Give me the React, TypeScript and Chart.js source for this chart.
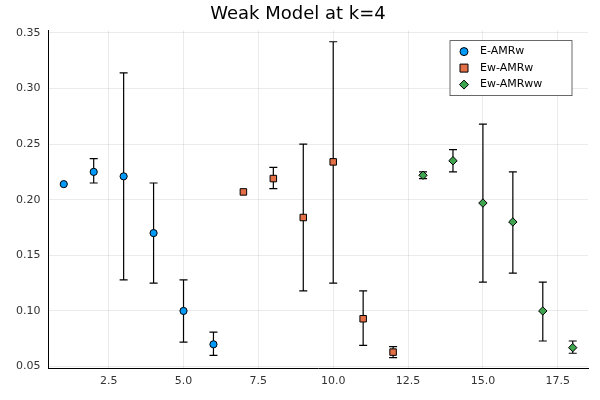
import React, { useEffect, useRef } from 'react';
import Chart from 'chart.js/auto';

const seriesNames = ['E-AMRw', 'Ew-AMRw', 'Ew-AMRww'];
const seriesColors = ['#009AFA', '#E26F46', '#3EA44E'];
const seriesShapes = ['circle', 'rect', 'rectRot'];
const xs = [
  [1, 2, 3, 4, 5, 6],
  [7, 8, 9, 10, 11, 12],
  [13, 14, 15, 16, 17, 18],
];
const ys = [
  [0.214, 0.225, 0.221, 0.17, 0.1, 0.07],
  [0.207, 0.219, 0.184, 0.234, 0.093, 0.063],
  [0.222, 0.235, 0.197, 0.18, 0.1, 0.067],
];
const lows = [
  [0.214, 0.215, 0.128, 0.125, 0.072, 0.06],
  [0.207, 0.21, 0.118, 0.125, 0.069, 0.058],
  [0.219, 0.225, 0.126, 0.134, 0.073, 0.062],
];
const highs = [
  [0.214, 0.237, 0.314, 0.215, 0.128, 0.081],
  [0.207, 0.229, 0.25, 0.342, 0.118, 0.068],
  [0.225, 0.245, 0.268, 0.225, 0.126, 0.073],
];
const xTicks = [2.5, 5, 7.5, 10, 12.5, 15, 17.5];
const yTicks = [0.05, 0.1, 0.15, 0.2, 0.25, 0.3, 0.35];

const font = 'DejaVu Sans';

const errorBars = {
  id: 'errorBars',
  beforeDatasetsDraw(chart: any) {
    const { ctx, scales } = chart;
    ctx.save();
    ctx.strokeStyle = '#000';
    ctx.lineWidth = 1.2;
    xs.forEach((row, s) => {
      row.forEach((x, i) => {
        const px = scales.x.getPixelForValue(x);
        const lo = scales.y.getPixelForValue(lows[s][i]);
        const hi = scales.y.getPixelForValue(highs[s][i]);
        if (Math.abs(lo - hi) < 0.5) return;
        ctx.beginPath();
        ctx.moveTo(px, lo);
        ctx.lineTo(px, hi);
        ctx.moveTo(px - 4, lo);
        ctx.lineTo(px + 4, lo);
        ctx.moveTo(px - 4, hi);
        ctx.lineTo(px + 4, hi);
        ctx.stroke();
      });
    });
    ctx.restore();
  },
};

const innerLegend = {
  id: 'innerLegend',
  afterDraw(chart: any) {
    const { ctx, chartArea } = chart;
    const w = 122, h = 55;
    const x0 = chartArea.right - w - 16;
    const y0 = chartArea.top + 10;
    ctx.save();
    ctx.fillStyle = '#fff';
    ctx.fillRect(x0, y0, w, h);
    ctx.strokeStyle = '#444';
    ctx.lineWidth = 0.8;
    ctx.strokeRect(x0, y0, w, h);
    ctx.font = `11px "${font}"`;
    ctx.textBaseline = 'middle';
    seriesNames.forEach((name, s) => {
      const cy = y0 + 11 + s * 16.5;
      const cx = x0 + 14;
      ctx.fillStyle = seriesColors[s];
      ctx.strokeStyle = '#000';
      ctx.lineWidth = 1;
      ctx.beginPath();
      if (s === 0) ctx.arc(cx, cy, 4, 0, Math.PI * 2);
      else if (s === 1) ctx.rect(cx - 4, cy - 4, 8, 8);
      else {
        ctx.moveTo(cx, cy - 4.5);
        ctx.lineTo(cx + 4.5, cy);
        ctx.lineTo(cx, cy + 4.5);
        ctx.lineTo(cx - 4.5, cy);
        ctx.closePath();
      }
      ctx.fill();
      ctx.stroke();
      ctx.fillStyle = '#000';
      ctx.fillText(name, x0 + 30, cy);
    });
    ctx.restore();
  },
};

const App: React.FC = () => {
  const chartRef = useRef<HTMLCanvasElement | null>(null);

  useEffect(() => {
    document.body.style.margin = '0';
    let chart: Chart | undefined;
    if (chartRef.current) {
      chart = new Chart(chartRef.current, {
        type: 'scatter',
        data: {
          datasets: seriesNames.map((name, s) => ({
            label: name,
            data: xs[s].map((x, i) => ({ x, y: ys[s][i] })),
            backgroundColor: seriesColors[s],
            borderColor: '#000',
            borderWidth: 1,
            pointStyle: seriesShapes[s] as any,
            pointRadius: s === 0 ? 3.6 : s === 1 ? 4.6 : 4.2,
          })),
        },
        options: {
          animation: false,
          responsive: false,
          layout: { padding: { left: 8, right: 12, top: 0, bottom: 6 } },
          plugins: {
            legend: { display: false },
            tooltip: { enabled: false },
            title: {
              display: true,
              text: 'Weak Model at k=4',
              color: '#000',
              font: { family: font, size: 18, weight: 'normal' },
              padding: { top: 4, bottom: 5 },
            },
          },
          scales: {
            x: {
              type: 'linear',
              min: 0.49,
              max: 18.51,
              afterBuildTicks: (axis: any) => {
                axis.ticks = xTicks.map((v) => ({ value: v }));
              },
              ticks: {
                color: '#333',
                font: { family: font, size: 11 },
                callback: (v: any) => Number(v).toFixed(1),
                maxRotation: 0,
                padding: 6,
              },
              grid: { color: 'rgba(0,0,0,0.08)', drawTicks: false },
              border: { color: '#000' },
            },
            y: {
              type: 'linear',
              min: 0.048,
              max: 0.352,
              afterBuildTicks: (axis: any) => {
                axis.ticks = yTicks.map((v) => ({ value: v }));
              },
              ticks: {
                color: '#333',
                font: { family: font, size: 11 },
                callback: (v: any) => Number(v).toFixed(2),
                padding: 8,
              },
              grid: { color: 'rgba(0,0,0,0.08)', drawTicks: false },
              border: { color: '#000' },
            },
          },
        },
        plugins: [errorBars, innerLegend],
      });
    }
    return () => {
      if (chart) chart.destroy();
    };
  }, []);

  return <canvas ref={chartRef} width={600} height={400} />;
};

export default App;
